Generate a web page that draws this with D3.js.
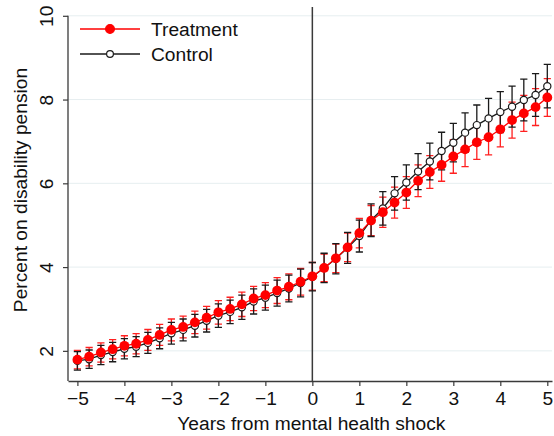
<!DOCTYPE html>
<html>
<head>
<meta charset="utf-8">
<script src="https://cdn.jsdelivr.net/npm/d3@7"></script>
<style>
  body { margin: 0; background: #fff; }
  text { font-family: "Liberation Sans", Arial, sans-serif; fill: #111; }
</style>
</head>
<body>
<div id="chart"></div>
<script>
// years relative to the shock (quarters)
var years = [-5, -4.75, -4.5, -4.25, -4, -3.75, -3.5, -3.25, -3, -2.75, -2.5, -2.25, -2, -1.75, -1.5, -1.25, -1, -0.75, -0.5, -0.25,
  0, 0.25, 0.5, 0.75, 1, 1.25, 1.5, 1.75, 2, 2.25, 2.5, 2.75, 3, 3.25, 3.5, 3.75, 4, 4.25, 4.5, 4.75, 5];

var treatment = [1.79, 1.86, 1.96, 2.04, 2.12, 2.17, 2.26, 2.38, 2.50, 2.57, 2.68, 2.79, 2.92, 3.00, 3.11, 3.25, 3.33, 3.44, 3.53, 3.65,
  3.78, 3.98, 4.21, 4.47, 4.81, 5.11, 5.31, 5.54, 5.78, 6.06, 6.27, 6.44, 6.64, 6.81, 6.98, 7.10, 7.29, 7.51, 7.67, 7.82, 8.05];
var treatmentCI = [0.22, 0.22, 0.23, 0.23, 0.24, 0.24, 0.25, 0.25, 0.26, 0.26, 0.27, 0.27, 0.28, 0.28, 0.29, 0.29, 0.30, 0.31, 0.31, 0.32,
  0.33, 0.33, 0.34, 0.34, 0.35, 0.36, 0.36, 0.37, 0.38, 0.38, 0.39, 0.39, 0.40, 0.41, 0.41, 0.42, 0.42, 0.43, 0.43, 0.44, 0.45];

var control = [1.76, 1.80, 1.90, 1.97, 2.05, 2.10, 2.19, 2.30, 2.42, 2.50, 2.60, 2.72, 2.84, 2.93, 3.04, 3.18, 3.27, 3.38, 3.49, 3.62,
  3.77, 3.98, 4.20, 4.46, 4.74, 5.12, 5.40, 5.76, 6.02, 6.28, 6.52, 6.77, 6.97, 7.21, 7.39, 7.55, 7.70, 7.83, 7.99, 8.11, 8.32];
var controlCI = [0.22, 0.22, 0.23, 0.23, 0.24, 0.24, 0.25, 0.25, 0.26, 0.26, 0.27, 0.27, 0.28, 0.28, 0.29, 0.30, 0.30, 0.31, 0.32, 0.33,
  0.34, 0.35, 0.36, 0.37, 0.38, 0.39, 0.40, 0.40, 0.42, 0.43, 0.44, 0.45, 0.46, 0.47, 0.48, 0.48, 0.49, 0.49, 0.50, 0.51, 0.52];

var xTicks = [-5, -4, -3, -2, -1, 0, 1, 2, 3, 4, 5];
var yTicks = [2, 4, 6, 8, 10];

var svgWidth = 554;
var svgHeight = 436;
var fontSize = "19.2px";

var svg = d3.select("#chart")
  .append("svg")
  .attr("width", svgWidth)
  .attr("height", svgHeight);

// scales
var x = d3.scaleLinear().domain([-5.2, 5.1]).range([68, 552]);
var y = d3.scaleLinear().domain([1.28, 10.21]).range([381, 7]);

var axisColor = "#3a3a3a";

// gridlines
svg.append("g").selectAll("line")
  .data(yTicks)
  .enter()
  .append("line")
  .attr("x1", 68).attr("x2", 552)
  .attr("y1", d => y(d)).attr("y2", d => y(d))
  .attr("stroke", "#e6eef0")
  .attr("stroke-width", 1);

// axes
var bottomAxis = d3.axisBottom(x).tickValues(xTicks).tickSize(5).tickSizeOuter(0)
  .tickFormat(d => d < 0 ? "\u2212" + Math.abs(d) : d);
var gx = svg.append("g")
  .attr("transform", "translate(0,381)")
  .call(bottomAxis);
gx.select(".domain").attr("stroke", axisColor).attr("stroke-width", 1.3);
gx.selectAll(".tick line").attr("stroke", axisColor).attr("stroke-width", 1.2);
gx.selectAll(".tick text")
  .attr("y", 10)
  .attr("dy", "0.71em")
  .style("font-size", fontSize)
  .attr("fill", "#111");

var leftAxis = d3.axisLeft(y).tickValues(yTicks).tickSize(5).tickSizeOuter(0);
var gy = svg.append("g")
  .attr("transform", "translate(68,0)")
  .call(leftAxis);
gy.select(".domain").attr("d", "M0," + y(10) + "V381").attr("stroke", axisColor).attr("stroke-width", 1.3);
gy.selectAll(".tick line").attr("stroke", axisColor).attr("stroke-width", 1.2);
gy.selectAll(".tick text")
  .attr("x", null)
  .attr("text-anchor", "middle")
  .attr("transform", "translate(-22,0) rotate(-90)")
  .attr("dy", "0.36em")
  .style("font-size", fontSize)
  .attr("fill", "#111");

// axis titles
svg.append("text")
  .attr("x", x(0) - 1)
  .attr("y", 430)
  .attr("text-anchor", "middle")
  .style("font-size", fontSize)
  .text("Years from mental health shock");

svg.append("text")
  .attr("transform", "translate(27,190) rotate(-90)")
  .attr("text-anchor", "middle")
  .style("font-size", fontSize)
  .text("Percent on disability pension");

// vertical line at shock
svg.append("line")
  .attr("x1", x(0)).attr("x2", x(0))
  .attr("y1", 7).attr("y2", 381)
  .attr("stroke", axisColor)
  .attr("stroke-width", 1.5);

var capW = 3.6;

function drawCaps(vals, ci, color) {
  var g = svg.append("g").attr("stroke", color).attr("stroke-width", 1.3).attr("fill", "none");
  years.forEach(function (yr, i) {
    var lo = y(vals[i] - ci[i]);
    var hi = y(vals[i] + ci[i]);
    var cx = x(yr);
    g.append("path")
      .attr("d", "M" + cx + "," + lo + "V" + hi +
        "M" + (cx - capW) + "," + lo + "H" + (cx + capW) +
        "M" + (cx - capW) + "," + hi + "H" + (cx + capW));
  });
}

drawCaps(treatment, treatmentCI, "#ff2020");
drawCaps(control, controlCI, "#1a1a1a");

var line = d3.line().x(d => x(d[0])).y(d => y(d[1]));

// control series
svg.append("path")
  .datum(years.map((d, i) => [d, control[i]]))
  .attr("d", line)
  .attr("fill", "none")
  .attr("stroke", "#1a1a1a")
  .attr("stroke-width", 1.3);
svg.append("g").selectAll("circle")
  .data(years.map((d, i) => [d, control[i]]))
  .enter()
  .append("circle")
  .attr("cx", d => x(d[0]))
  .attr("cy", d => y(d[1]))
  .attr("r", 3.6)
  .attr("fill", "#fff")
  .attr("stroke", "#1a1a1a")
  .attr("stroke-width", 1.2);

// treatment series
svg.append("path")
  .datum(years.map((d, i) => [d, treatment[i]]))
  .attr("d", line)
  .attr("fill", "none")
  .attr("stroke", "#ff0000")
  .attr("stroke-width", 1.3);
svg.append("g").selectAll("circle")
  .data(years.map((d, i) => [d, treatment[i]]))
  .enter()
  .append("circle")
  .attr("cx", d => x(d[0]))
  .attr("cy", d => y(d[1]))
  .attr("r", 4.9)
  .attr("fill", "#ff0000");

// legend
var legend = svg.append("g");
var legendItems = [
  { label: "Treatment", color: "#ff0000", fill: "#ff0000", r: 4.4, yPos: 29 },
  { label: "Control", color: "#1a1a1a", fill: "#fff", r: 3.4, yPos: 54 }
];
legendItems.forEach(function (d) {
  legend.append("line")
    .attr("x1", 80).attr("x2", 140)
    .attr("y1", d.yPos).attr("y2", d.yPos)
    .attr("stroke", d.color)
    .attr("stroke-width", 1.3);
  legend.append("circle")
    .attr("cx", 110).attr("cy", d.yPos)
    .attr("r", d.r)
    .attr("fill", d.fill)
    .attr("stroke", d.color)
    .attr("stroke-width", 1.2);
  legend.append("text")
    .attr("x", 151)
    .attr("y", d.yPos)
    .attr("dy", "0.36em")
    .style("font-size", fontSize)
    .text(d.label);
});
</script>
</body>
</html>
